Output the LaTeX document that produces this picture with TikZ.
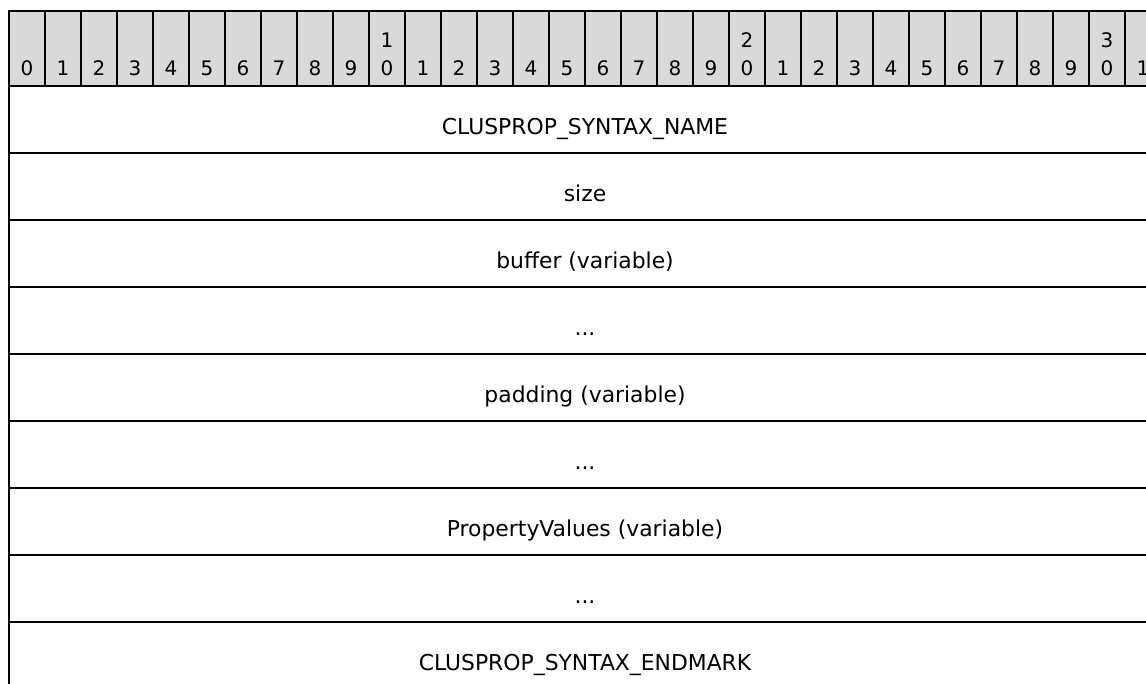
\documentclass[tikz,border=0pt]{standalone}
\usepackage{fontspec}
\setmainfont{DejaVu Sans}
\colorlet{hdx}{gray!30}
\newcommand\fdots{...}
\tikzset{
    bitlbl/.style={anchor=base,inner sep=0pt,font=\fontsize{15}{18}\selectfont},
    fieldlbl/.style={anchor=base,inner sep=0pt,font=\fontsize{16.4}{20}\selectfont},
}

\begin{document}
\begin{tikzpicture}[x=0.75pt,y=-0.75pt]
        \clip (0,0) rectangle (1146,684);

        % header with the bit numbers
        \foreach \i in {0,...,31} {
            \filldraw [fill=hdx,line width=1pt] ({9+36*\i},11) rectangle ++(36,75);
            \pgfmathtruncatemacro\u{mod(\i,10)}
            \node [bitlbl] (bit\i) at ({27+36*\i},76) {\u};
        }
        \foreach \t in {1,2,3}
            \node [bitlbl] (ten\t) at ({27+360*\t},48) {\t};

        % fields
        \foreach \lbl [count=\k from 0] in {
            CLUSPROP\_SYNTAX\_NAME,
            size,
            buffer (variable),
            \fdots,
            padding (variable),
            \fdots,
            PropertyValues (variable),
            \fdots,
            CLUSPROP\_SYNTAX\_ENDMARK%
        } {
            \draw [line width=1pt] (9,{86+67*\k}) rectangle ++(1152,67);
            \node [fieldlbl] (row\k) at (585,{134.5+67*\k}) {\lbl};
        }

        \draw [line width=1.5pt] (9,11) -- (9,684);
    \end{tikzpicture}
\end{document}
